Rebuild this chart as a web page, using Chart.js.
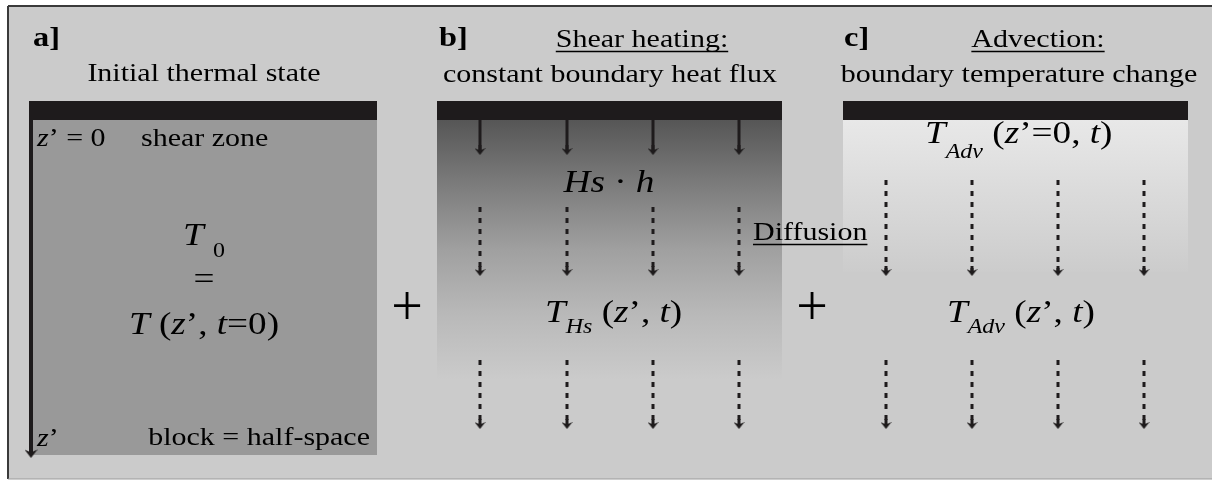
<!DOCTYPE html>
<html>
<head>
<meta charset="utf-8">
<script src="https://cdn.jsdelivr.net/npm/chart.js@4.4.0/dist/chart.umd.min.js"></script>
<style>
  html, body { margin: 0; background: #fff; }
  #wrap { width: 1212px; height: 480px; }
</style>
</head>
<body>
<div id="wrap"><canvas id="diagram"></canvas></div>
<script>
// ── Diagram data (units = frame pixels, y grows downward) ────────────────
const frameX = [8, 1212];
const frameY = [6, 479];
const barLeft    = [30, 437, 843];
const barRight   = [377, 782, 1188];
const barY       = [101, 120];
const fillLeft   = [33, 437, 843];
const fillBottom = [455, 380, 272];
const fluxX      = [480, 567, 653, 739];
const fluxY      = [120, 155];               // start, arrow tip
const diffXb     = [480, 567, 653, 739];
const diffXc     = [886, 972, 1058, 1144];
const diffRowsB  = [[207, 276], [360, 429]]; // start, arrow tip
const diffRowsC  = [[180, 276], [360, 429]];
const depthAxis  = [31, 101, 458];           // x, top, arrow tip

// text: [string, style, size, dy]
const textItems = [
  { x: 33,   y: 46,  align: 'left',   parts: [['a]', 'b', 27]] },
  { x: 439,  y: 46,  align: 'left',   parts: [['b]', 'b', 27]] },
  { x: 844,  y: 46,  align: 'left',   parts: [['c]', 'b', 27]] },
  { x: 204,  y: 81,  align: 'center', parts: [['Initial thermal state', 'r', 25]] },
  { x: 642,  y: 47,  align: 'center', parts: [['Shear heating:', 'r', 25]], underline: true },
  { x: 610,  y: 82,  align: 'center', parts: [['constant boundary heat flux', 'r', 25]] },
  { x: 1038, y: 47,  align: 'center', parts: [['Advection:', 'r', 25]], underline: true },
  { x: 1019, y: 82,  align: 'center', parts: [['boundary temperature change', 'r', 25]] },
  { x: 37,   y: 146, align: 'left',   parts: [['z', 'i', 25], ['’ = 0', 'r', 25]] },
  { x: 141,  y: 146, align: 'left',   parts: [['shear zone', 'r', 25]] },
  { x: 204,  y: 245, align: 'center', parts: [['T ', 'i', 31], ['0', 'r', 20, 12]] },
  { x: 204,  y: 289, align: 'center', parts: [['=', 'r', 31]] },
  { x: 204,  y: 334, align: 'center', parts: [['T', 'i', 31], [' (', 'r', 31], ['z', 'i', 31], ['’, ', 'r', 31], ['t', 'i', 31], ['=0)', 'r', 31]] },
  { x: 37,   y: 446, align: 'left',   parts: [['z', 'i', 25], ['’', 'r', 25]] },
  { x: 370,  y: 445, align: 'right',  parts: [['block = half-space', 'r', 25]] },
  { x: 407,  y: 325, align: 'center', parts: [['+', 'r', 56]], sx: 1 },
  { x: 812,  y: 325, align: 'center', parts: [['+', 'r', 56]], sx: 1 },
  { x: 609,  y: 192, align: 'center', parts: [['Hs', 'i', 31], [' · ', 'r', 31], ['h', 'i', 31]] },
  { x: 753,  y: 240, align: 'left',   parts: [['Diffusion', 'r', 25]], underline: true },
  { x: 545,  y: 322, align: 'left',   parts: [['T', 'i', 31], ['Hs', 'i', 20, 11], [' (', 'r', 31], ['z', 'i', 31], ['’, ', 'r', 31], ['t', 'i', 31], [')', 'r', 31]] },
  { x: 925,  y: 143, align: 'left',   parts: [['T', 'i', 31], ['Adv', 'i', 20, 15], [' (', 'r', 31], ['z', 'i', 31], ['’=0, ', 'r', 31], ['t', 'i', 31], [')', 'r', 31]] },
  { x: 947,  y: 322, align: 'left',   parts: [['T', 'i', 31], ['Adv', 'i', 20, 11], [' (', 'r', 31], ['z', 'i', 31], ['’, ', 'r', 31], ['t', 'i', 31], [')', 'r', 31]] },
];

// ── Helpers ───────────────────────────────────────────────────────────────
const INK = '#1e1b1c';
const SERIF = '"Liberation Serif", "Times New Roman", serif';
const SX = 1.2;   // the original lettering is stretched sideways

// notched arrowhead used as a point style (points down)
function makeHead(w, h, color) {
  const c = document.createElement('canvas');
  c.width = w; c.height = h;
  const g = c.getContext('2d');
  g.fillStyle = color;
  g.beginPath();
  g.moveTo(w / 2, h);
  g.lineTo(0, h * 0.3);
  g.lineTo(w / 2, h * 0.55);
  g.lineTo(w, h * 0.3);
  g.closePath();
  g.fill();
  g.fillRect(w / 2 - 1.5, 0, 3, h * 0.7);
  return c;
}
const headSmall = makeHead(11, 10, INK);
const headBig   = makeHead(13, 12, INK);

function vGrad(y0, y1, stops) {
  return (ctx) => {
    const chart = ctx.chart, ys = chart.scales.y;
    const fallback = stops[stops.length - 1][1];
    if (!chart.chartArea || !ys) return fallback;
    const p0 = ys.getPixelForValue(y0), p1 = ys.getPixelForValue(y1);
    if (!isFinite(p0) || !isFinite(p1)) return fallback;
    const g = chart.ctx.createLinearGradient(0, p0, 0, p1);
    stops.forEach(s => g.addColorStop(s[0], s[1]));
    return g;
  };
}

function rect(x0, x1, y0, y1, color) {
  return {
    data: [{ x: x0, y: y0 }, { x: x1, y: y0 }],
    fill: { value: y1 },
    backgroundColor: color,
    borderWidth: 0,
    pointRadius: 0,
  };
}

function segment(x0, y0, x1, y1, width, color, dash) {
  return {
    data: [{ x: x0, y: y0 }, { x: x1, y: y1 }],
    fill: false,
    borderColor: color,
    borderWidth: width,
    borderDash: dash || [],
    borderCapStyle: 'butt',
    pointRadius: 0,
  };
}

// vertical arrow: line to the head centre, head image centred there
function arrow(x, y0, tip, width, dash, head) {
  const mid = tip - head.height / 2;
  const d = segment(x, y0, x, mid, width, INK, dash);
  d.pointRadius = [0, 6];
  d.pointStyle = head;
  return d;
}

// ── Build datasets in painting order ──────────────────────────────────────
const layers = [];
layers.push(rect(frameX[0], frameX[1], frameY[0], frameY[1], '#cbcbcb'));
layers.push(segment(frameX[0], frameY[0], frameX[1], frameY[0], 2, '#3a3a3a'));
layers.push(segment(frameX[0], frameY[0], frameX[0], frameY[1], 2, '#3a3a3a'));
layers.push(segment(frameX[0], frameY[1], frameX[1], frameY[1], 1, '#9a9a9a'));

// panel fills
layers.push(rect(fillLeft[0], barRight[0], barY[1], fillBottom[0], '#999999'));
layers.push(rect(fillLeft[1], barRight[1], barY[1], fillBottom[1],
  vGrad(barY[1], fillBottom[1], [[0, '#565656'], [0.25, '#7c7c7c'], [0.5, '#a0a0a0'], [0.75, '#b9b9b9'], [1, '#cbcbcb']])));
layers.push(rect(fillLeft[2], barRight[2], barY[1], fillBottom[2],
  vGrad(barY[1], fillBottom[2], [[0, '#e8e8e8'], [1, '#cccccc']])));

// shear-zone bars
barLeft.forEach((x0, i) => layers.push(rect(x0, barRight[i], barY[0], barY[1], INK)));

// z' axis arrow
layers.push(arrow(depthAxis[0], depthAxis[1], depthAxis[2], 4, null, headBig));

// heat-flux arrows
fluxX.forEach(x => layers.push(arrow(x, fluxY[0], fluxY[1], 3, null, headSmall)));

// diffusion arrows
diffRowsB.forEach(r => diffXb.forEach(x => layers.push(arrow(x, r[0], r[1], 3, [5, 6], headSmall))));
diffRowsC.forEach(r => diffXc.forEach(x => layers.push(arrow(x, r[0], r[1], 3, [5, 6], headSmall))));

layers.forEach((d, i) => { d.order = -i; });

// ── Text plugin ───────────────────────────────────────────────────────────
function fontOf(p) {
  const st = p[1] === 'i' ? 'italic ' : p[1] === 'b' ? 'bold ' : '';
  return st + p[2] + 'px ' + SERIF;
}

const diagramText = {
  id: 'diagramText',
  afterDatasetsDraw(chart) {
    const { ctx, scales: { x, y } } = chart;
    ctx.save();
    ctx.fillStyle = '#000';
    ctx.strokeStyle = '#000';
    ctx.textBaseline = 'alphabetic';
    ctx.textAlign = 'left';
    textItems.forEach(item => {
      const sx = item.sx || SX;
      let total = 0;
      const widths = item.parts.map(p => {
        ctx.font = fontOf(p);
        const w = ctx.measureText(p[0]).width * sx;
        total += w;
        return w;
      });
      let px = x.getPixelForValue(item.x);
      const py = y.getPixelForValue(item.y);
      if (item.align === 'center') px -= total / 2;
      else if (item.align === 'right') px -= total;
      const start = px;
      item.parts.forEach((p, i) => {
        ctx.font = fontOf(p);
        ctx.save();
        ctx.translate(px, py + (p[3] || 0));
        ctx.scale(sx, 1);
        ctx.fillText(p[0], 0, 0);
        ctx.restore();
        px += widths[i];
      });
      if (item.underline) {
        ctx.lineWidth = 1.3;
        ctx.beginPath();
        ctx.moveTo(start, py + 4.5);
        ctx.lineTo(px, py + 4.5);
        ctx.stroke();
      }
    });
    ctx.restore();
  }
};

// ── Chart ─────────────────────────────────────────────────────────────────
new Chart(document.getElementById('diagram'), {
  type: 'line',
  data: { datasets: layers },
  options: {
    responsive: true,
    maintainAspectRatio: false,
    animation: false,
    layout: { padding: 0, autoPadding: false },
    plugins: { legend: { display: false }, tooltip: { enabled: false } },
    events: [],
    scales: {
      x: { type: 'linear', min: 0, max: 1212, display: false },
      y: { type: 'linear', min: 0, max: 480, reverse: true, display: false }
    }
  },
  plugins: [diagramText]
});
</script>
</body>
</html>
